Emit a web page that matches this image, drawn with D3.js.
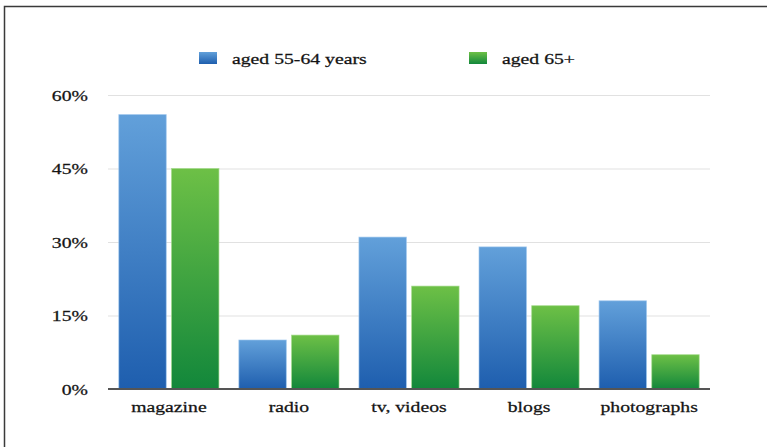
<!DOCTYPE html>
<html>
<head>
<meta charset="utf-8">
<script src="https://cdn.jsdelivr.net/npm/d3@7"></script>
<style>
  html, body { margin: 0; padding: 0; background: #fff; }
  svg { display: block; }
</style>
</head>
<body>
<svg id="chart" width="767" height="447"></svg>
<script>
// Share of users by content type and age group (%)
const categories = ["magazine", "radio", "tv, videos", "blogs", "photographs"];
const seriesNames = ["aged 55-64 years", "aged 65+"];
const aged55to64 = [56, 10, 31, 29, 18];
const aged65plus = [45, 11, 21, 17, 7];
const yTicks = [0, 15, 30, 45, 60];

const seriesValues = [aged55to64, aged65plus];
const rows = categories.map((c, i) => ({
  category: c,
  values: seriesNames.map((s, k) => ({ series: s, value: seriesValues[k][i] }))
}));

const W = 767, H = 447;
const plot = { left: 108, right: 710, top: 95, bottom: 389 };
const textStretch = 1.36;   // wide serif lettering
const FONT = '"Liberation Serif", "Times New Roman", Tinos, serif';

// Common text look: serif, near-black, slightly heavy
function styleText(sel, size) {
  sel.style("font-family", FONT)
    .attr("font-size", size)
    .attr("fill", "#141414")
    .attr("stroke", "#141414")
    .attr("stroke-width", 0.25);
}

const svg = d3.select("#chart");

// Gradients: lighter at top, deeper at the base
const defs = svg.append("defs");
const gradients = [
  { id: "g-blue", top: "#62a0da", bottom: "#1e5eae" },
  { id: "g-green", top: "#6dc046", bottom: "#12873b" }
];
gradients.forEach(g => {
  const lg = defs.append("linearGradient")
    .attr("id", g.id).attr("x1", 0).attr("y1", 0).attr("x2", 0).attr("y2", 1);
  lg.append("stop").attr("offset", "0%").attr("stop-color", g.top);
  lg.append("stop").attr("offset", "100%").attr("stop-color", g.bottom);
});
const fillFor = d3.scaleOrdinal().domain(seriesNames).range(["url(#g-blue)", "url(#g-green)"]);
const edgeFor = d3.scaleOrdinal().domain(seriesNames).range(["#9cc6ee", "#a3d98a"]);

// Frame
svg.append("path")
  .attr("d", `M4.5,${H} L4.5,6.5 L${W},6.5`)
  .attr("fill", "none").attr("stroke", "#3a3a3a").attr("stroke-width", 1.5);

// Scales
const x0 = d3.scaleBand().domain(categories)
  .range([plot.left, plot.right]).paddingInner(0.166).paddingOuter(0.09);
const x1 = d3.scaleBand().domain(seriesNames)
  .range([0, x0.bandwidth()]).paddingInner(0.1).paddingOuter(0);
const y = d3.scaleLinear().domain([0, 60]).range([plot.bottom, plot.top]);

// Horizontal gridlines with percentage labels
const yAxis = d3.axisLeft(y).tickValues(yTicks)
  .tickSize(-(plot.right - plot.left)).tickFormat(d => d + "%");
const gy = svg.append("g").attr("transform", `translate(${plot.left},0)`).call(yAxis);
gy.select(".domain").remove();
gy.selectAll(".tick line").attr("stroke", "#e1e1e1").attr("stroke-width", 1);
gy.selectAll(".tick text")
  .attr("x", null).attr("dy", null)
  .attr("text-anchor", "end")
  .attr("transform", `translate(-20,5) scale(${textStretch},1)`)
  .call(styleText, 14.5);

// Bars
const groups = svg.append("g").selectAll("g")
  .data(rows).join("g")
  .attr("transform", d => `translate(${x0(d.category)},0)`);
groups.selectAll("rect")
  .data(d => d.values).join("rect")
  .attr("x", d => x1(d.series))
  .attr("y", d => y(d.value))
  .attr("width", x1.bandwidth())
  .attr("height", d => y(0) - y(d.value))
  .attr("fill", d => fillFor(d.series))
  .attr("stroke", d => edgeFor(d.series))
  .attr("stroke-width", 0.8)
  .attr("stroke-opacity", 0.8);

// Baseline and category labels
const xAxis = d3.axisBottom(x0).tickSize(0).tickPadding(0);
const gx = svg.append("g").attr("transform", `translate(0,${plot.bottom})`).call(xAxis);
gx.select(".domain").attr("stroke", "#555").attr("stroke-width", 2)
  .attr("d", `M${plot.left},0H${plot.right}`);
gx.selectAll(".tick text")
  .attr("y", null).attr("dy", null)
  .attr("transform", `translate(0,23) scale(${textStretch},1)`)
  .call(styleText, 14.5);

// Legend
const legendX = [199, 469];
const legend = svg.append("g").selectAll("g")
  .data(seriesNames).join("g")
  .attr("transform", (d, i) => `translate(${legendX[i]},52)`);
legend.append("rect")
  .attr("width", 18).attr("height", 12)
  .attr("fill", d => fillFor(d));
legend.append("text")
  .attr("transform", `translate(33,12) scale(${textStretch},1)`)
  .text(d => d)
  .call(styleText, 14.5);
</script>
</body>
</html>
